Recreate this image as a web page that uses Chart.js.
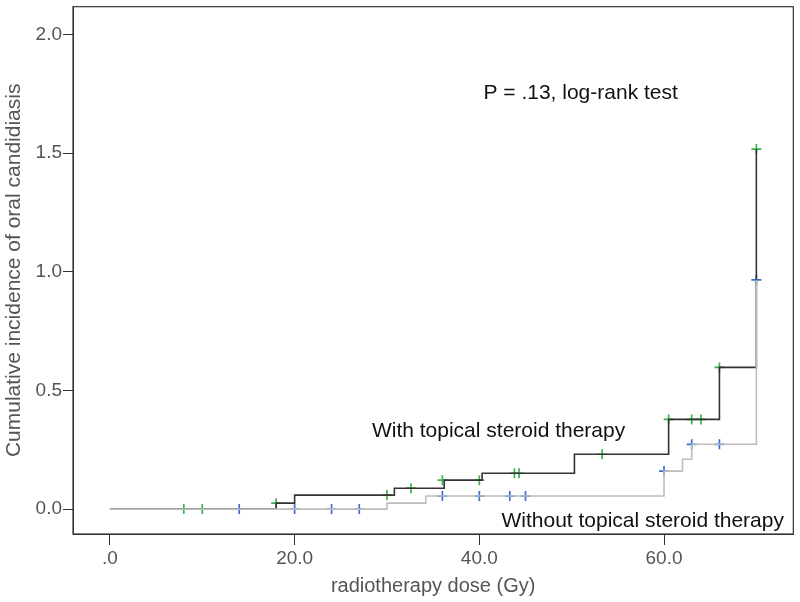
<!DOCTYPE html>
<html>
<head>
<meta charset="utf-8">
<script src="https://cdn.jsdelivr.net/npm/chart.js@4"></script>
<style>
  html, body { margin: 0; padding: 0; background: #fff; }
  #wrap { width: 800px; height: 602px; }
</style>
</head>
<body>
<div id="wrap"><canvas id="myChart"></canvas></div>
<script>
// step curve, with topical steroid therapy (dark line)
const withTimes = [0, 18, 20, 30.8, 36.2, 40.3, 50.3, 60.5, 66, 70];
const withValues = [0, 0.025, 0.059, 0.088, 0.122, 0.151, 0.231, 0.378, 0.597, 1.517];
// censored marks (green)
const withCensorTimes = [8, 10, 18, 30, 32.6, 36, 40, 43.8, 44.3, 53.3, 60.5, 63, 64, 66, 70];
const withCensorValues = [0, 0, 0.025, 0.059, 0.088, 0.122, 0.122, 0.151, 0.151, 0.231, 0.378, 0.378, 0.378, 0.597, 1.517];

// step curve, without topical steroid therapy (grey line)
const withoutTimes = [0, 30, 34.2, 60, 62, 63, 70];
const withoutValues = [0, 0.025, 0.055, 0.16, 0.21, 0.273, 0.966];
// censored marks (blue)
const withoutCensorTimes = [14, 20, 24, 27, 36, 40, 43.3, 45, 60, 63, 66, 70];
const withoutCensorValues = [0, 0, 0, 0, 0.055, 0.055, 0.055, 0.055, 0.16, 0.273, 0.273, 0.966];

const xTickValues = [0, 20, 40, 60];
const xTickLabels = ['.0', '20.0', '40.0', '60.0'];
const yTickValues = [0, 0.5, 1.0, 1.5, 2.0];
const yTickLabels = ['0.0', '0.5', '1.0', '1.5', '2.0'];

const toPoints = (xs, ys) => xs.map((x, i) => ({ x: x, y: ys[i] }));

const fontFam = '"Liberation Sans", Arial, sans-serif';

const frame = {
  id: 'frame',
  afterDraw(chart) {
    const { ctx, chartArea: a, scales } = chart;
    ctx.save();
    ctx.strokeStyle = '#333';
    ctx.lineWidth = 1.2;
    ctx.strokeRect(a.left, a.top, a.right - a.left, a.bottom - a.top);

    ctx.fillStyle = '#111';
    ctx.font = '21px ' + fontFam;
    ctx.textBaseline = 'alphabetic';
    ctx.textAlign = 'left';
    const x = scales.x, y = scales.y;
    ctx.fillText('P = .13, log-rank test', x.getPixelForValue(40.45), y.getPixelForValue(1.727));
    ctx.fillText('With topical steroid therapy', x.getPixelForValue(28.37), y.getPixelForValue(0.302));
    ctx.fillText('Without topical steroid therapy', x.getPixelForValue(42.4), y.getPixelForValue(-0.075));
    ctx.restore();
  }
};

const config = {
  type: 'scatter',
  data: {
    datasets: [
      {
        data: toPoints(withoutTimes, withoutValues),
        showLine: true, stepped: true,
        borderColor: '#bdbdbd', borderWidth: 1.6,
        pointRadius: 0
      },
      {
        data: toPoints(withTimes, withValues),
        showLine: true, stepped: true,
        borderColor: '#333333', borderWidth: 1.6,
        pointRadius: 0
      },
      {
        data: toPoints(withoutCensorTimes, withoutCensorValues),
        pointStyle: 'cross', pointRadius: 5, borderWidth: 1.7,
        borderColor: '#3b6fcf', backgroundColor: '#3b6fcf'
      },
      {
        data: toPoints(withCensorTimes, withCensorValues),
        pointStyle: 'cross', pointRadius: 5, borderWidth: 1.7,
        borderColor: '#3cb44b', backgroundColor: '#3cb44b'
      }
    ]
  },
  options: {
    responsive: true,
    maintainAspectRatio: false,
    animation: false,
    layout: { padding: { top: 4, right: 4, left: 0, bottom: 0 } },
    plugins: { legend: { display: false }, tooltip: { enabled: false } },
    scales: {
      x: {
        type: 'linear', min: -4.0, max: 74.0,
        afterBuildTicks: s => { s.ticks = xTickValues.map(v => ({ value: v })); },
        afterFit: s => { s.height = 68; s.paddingLeft = 0; s.paddingRight = 0; },
        ticks: {
          color: '#555', font: { family: fontFam, size: 19 }, padding: 2,
          maxRotation: 0,
          callback: v => xTickLabels[xTickValues.indexOf(v)]
        },
        grid: { drawOnChartArea: false, drawTicks: true, tickLength: 11, color: '#333' },
        border: { display: true, color: '#333' },
        title: {
          display: true, text: 'radiotherapy dose (Gy)', color: '#555',
          font: { family: fontFam, size: 20 }, padding: { top: 7 }
        }
      },
      y: {
        type: 'linear', min: -0.105, max: 2.117,
        afterBuildTicks: s => { s.ticks = yTickValues.map(v => ({ value: v })); },
        afterFit: s => { s.width = 73; s.paddingTop = 0; s.paddingBottom = 0; },
        ticks: {
          color: '#555', font: { family: fontFam, size: 19 }, padding: 1,
          callback: v => yTickLabels[yTickValues.indexOf(v)]
        },
        grid: { drawOnChartArea: false, drawTicks: true, tickLength: 10, color: '#333' },
        border: { display: true, color: '#333' },
        title: {
          display: true, text: 'Cumulative incidence of oral candidiasis', color: '#555',
          font: { family: fontFam, size: 21 }, padding: { top: 2, bottom: 0 }
        }
      }
    }
  },
  plugins: [frame]
};

new Chart(document.getElementById('myChart'), config);
</script>
</body>
</html>
